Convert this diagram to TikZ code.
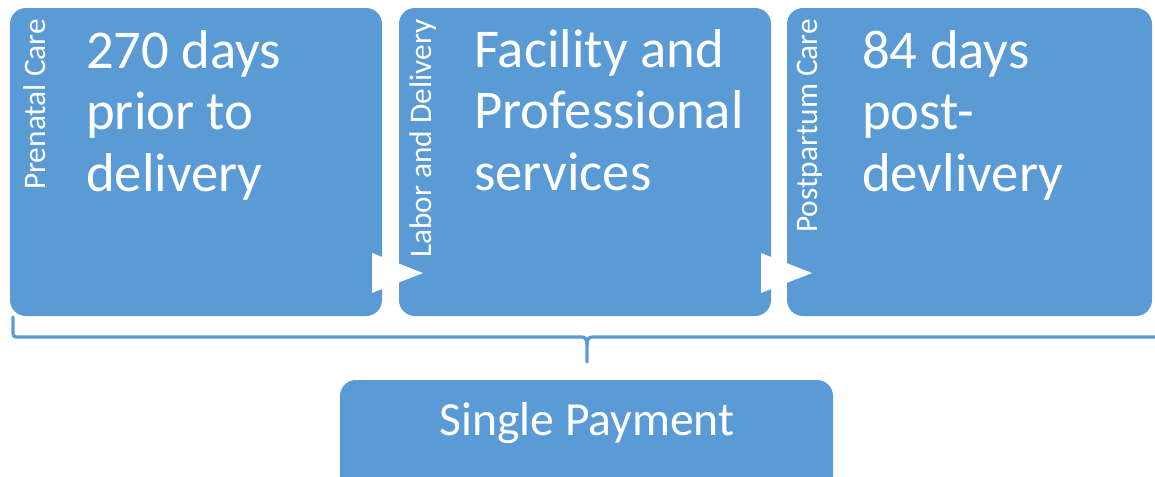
\documentclass[tikz,border=0pt]{standalone}
\usepackage{fontspec}
\setmainfont{Carlito}
\definecolor{boxblue}{HTML}{5B9BD5}
\tikzset{
  phase/.style={fill=boxblue, draw=none, rounded corners=12},
  bigtxt/.style={anchor=base west, inner sep=0, text=white, font=\fontsize{41}{46}\selectfont},
  sidetxt/.style={anchor=base west, inner sep=0, text=white, rotate=90, font=\fontsize{23.5}{28}\selectfont},
  paytxt/.style={anchor=base, inner sep=0, text=white, font=\fontsize{35.7}{42}\selectfont},
  chevron/.style={fill=white, draw=none},
  brace/.style={draw=boxblue, line width=2.4, line cap=round, line join=round}
}
\begin{document}
\begin{tikzpicture}[x=0.75pt,y=-0.75pt]
\useasboundingbox (0,0) rectangle (1155,476);
\clip (0,0) rectangle (1155,476);
% boxes
\path[phase] (10,8) rectangle (382,316);
\path[phase] (399,8) rectangle (771,316);
\path[phase] (787,8) rectangle (1152,316);
\path[phase] (340,380) rectangle (833,500);
\coordinate (b1) at (196,316);
\coordinate (pay) at (587,380);
% chevrons
\fill[chevron] (372,253) -- (423,273) -- (372,293) -- cycle;
\fill[chevron] (761,253) -- (812,273) -- (761,293) -- cycle;
% side labels
\node[sidetxt] (s1) at (45,190) {Prenatal Care};
\node[sidetxt] (s2) at (431,258) {Labor and Delivery};
\node[sidetxt] (s3) at (817,233) {Postpartum Care};
% main texts
\node[bigtxt] (a1) at (86,68) {270 days};
\node[bigtxt] (a2) at (86,129) {prior to};
\node[bigtxt] (a3) at (86,191) {delivery};
\node[bigtxt] (c1) at (474,67) {Facility and};
\node[bigtxt] (c2) at (474,128) {Professional};
\node[bigtxt] (c3) at (474,190) {services};
\node[bigtxt] (d1) at (862,68) {84 days};
\node[bigtxt] (d2) at (862,129) {post-};
\node[bigtxt] (d3) at (862,191) {devlivery};
\node[paytxt] (p) at (587,435) {Single Payment};
% brace
\coordinate (bl) at (13,317);
\coordinate (bm) at (587,362);
\coordinate (br) at (1160,337);
\draw[brace] (bl) -- (13,330) .. controls (13,337) .. (20,337) -- (578,337) .. controls (586,337) .. (587,345) -- (bm);
\draw[brace] (587,345) .. controls (588,337) .. (596,337) -- (br);
\end{tikzpicture}
\end{document}
